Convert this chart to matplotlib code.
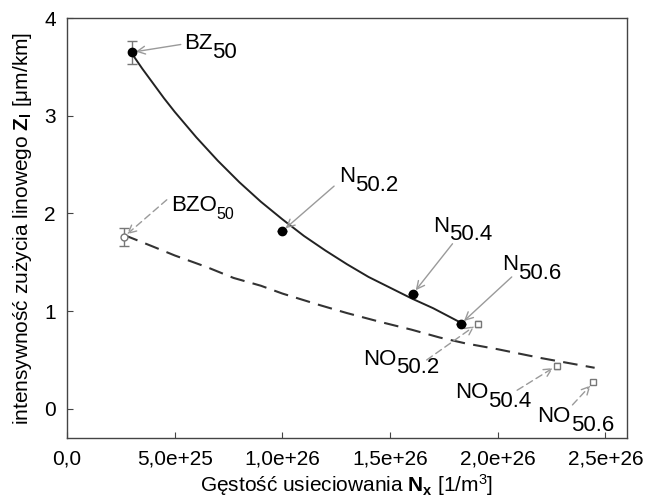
import matplotlib
matplotlib.use("Agg")
import matplotlib.pyplot as plt

plt.rcParams["font.family"] = ["Liberation Sans", "DejaVu Sans"]
plt.rcParams["mathtext.fontset"] = "custom"
plt.rcParams["mathtext.rm"] = "Liberation Sans"
plt.rcParams["mathtext.it"] = "Liberation Sans:italic"
plt.rcParams["mathtext.bf"] = "Liberation Sans:bold"

n_x = [3.0e25, 1.0e26, 1.607e26, 1.829e26]
n_y = [3.65, 1.82, 1.18, 0.87]
n_err = [0.12, 0.0, 0.0, 0.0]

no_x = [2.64e25, 1.907e26, 2.273e26, 2.444e26]
no_y = [1.76, 0.87, 0.44, 0.27]
no_err = [0.09, 0.03, 0.03, 0.02]

# trend lines
fit_n_x = [3.0e25, 3.5e25, 4.0e25, 4.5e25, 5.0e25, 5.5e25, 6.0e25, 6.5e25, 7.0e25,
           7.5e25, 8.0e25, 9.0e25, 1.0e26, 1.1e26, 1.2e26, 1.3e26, 1.4e26,
           1.5e26, 1.6e26, 1.7e26, 1.83e26]
fit_n_y = [3.64, 3.48, 3.33, 3.18, 3.04, 2.91, 2.78, 2.66, 2.54,
           2.43, 2.32, 2.12, 1.94, 1.77, 1.62, 1.48, 1.35,
           1.24, 1.13, 1.03, 0.88]

fit_no_x = [2.64e25, 4.0e25, 5.0e25, 6.5e25, 7.73e25, 9.0e25, 1.0e26, 1.176e26,
            1.3e26, 1.454e26, 1.6e26, 1.73e26, 1.85e26, 2.0e26, 2.1e26, 2.2e26,
            2.3e26, 2.45e26]
fit_no_y = [1.78, 1.66, 1.57, 1.45, 1.34, 1.26, 1.18, 1.06,
            0.98, 0.89, 0.81, 0.73, 0.67, 0.61, 0.565, 0.52,
            0.48, 0.42]

xticks = [0, 5e25, 1e26, 1.5e26, 2e26, 2.5e26]
xtick_labels = ["0,0", "5,0e+25", "1,0e+26", "1,5e+26", "2,0e+26", "2,5e+26"]
yticks = [0, 1, 2, 3, 4]

n_names = ["BZ", "N", "N", "N"]
n_subs = ["50", "50.2", "50.4", "50.6"]
no_names = ["BZO", "NO", "NO", "NO"]
no_subs = ["50", "50.2", "50.4", "50.6"]

# label layout: text baseline position, arrow tail position
n_text_pos = [(5.42e25, 3.68), (1.264e26, 2.32), (1.70e26, 1.81), (2.02e26, 1.42)]
n_tail_pos = [(5.28e25, 3.73), (1.24e26, 2.28), (1.79e26, 1.69), (2.065e26, 1.35)]
no_text_pos = [(4.81e25, 2.03), (1.375e26, 0.45), (1.80e26, 0.11), (2.185e26, -0.14)]
no_tail_pos = [(4.63e25, 2.14), (1.67e26, 0.50), (2.09e26, 0.19), (2.347e26, 0.04)]

fig = plt.figure(figsize=(6.45, 5.03), dpi=100)
ax = fig.add_axes([0.104, 0.129, 0.868, 0.835])

ax.plot(fit_n_x, fit_n_y, color="#222222", lw=1.4, zorder=2)
ax.plot(fit_no_x, fit_no_y, color="#333333", lw=1.5, dashes=(7, 4), zorder=2)

ax.errorbar(n_x, n_y, yerr=n_err, fmt="o", color="black", ms=6,
            ecolor="#777777", elinewidth=1, capsize=3.5, zorder=4)
ax.errorbar(no_x[:1], no_y[:1], yerr=no_err[:1], fmt="o", mfc="white",
            mec="#777777", color="#777777", ms=5, elinewidth=1, capsize=3.5, zorder=4)
ax.errorbar(no_x[1:], no_y[1:], yerr=no_err[1:], fmt="s", mfc="white",
            mec="#777777", color="#777777", ms=5, elinewidth=1, capsize=2, zorder=4)


def label(name, sub, pos, tail, pt, dashed, sub_size):
    ls = (0, (5, 3)) if dashed else "-"
    ax.annotate("", xy=pt, xytext=tail,
                arrowprops=dict(arrowstyle="->", color="#9a9a9a", lw=1,
                                linestyle=ls, shrinkA=0, shrinkB=3,
                                mutation_scale=14))
    t = ax.text(pos[0], pos[1], name, fontsize=16, va="baseline", ha="left")
    ax.annotate(sub, xy=(1, 0), xycoords=t, xytext=(0, -2.5),
                textcoords="offset points", fontsize=sub_size,
                va="baseline", ha="left")


for i in range(4):
    label(n_names[i], n_subs[i], n_text_pos[i], n_tail_pos[i],
          (n_x[i], n_y[i]), False, 16)
for i in range(4):
    label(no_names[i], no_subs[i], no_text_pos[i], no_tail_pos[i],
          (no_x[i], no_y[i]), True, 11.5 if i == 0 else 16)

ax.set_xlim(0, 2.6e26)
ax.set_ylim(-0.3, 4)
ax.set_xticks(xticks)
ax.set_xticklabels(xtick_labels)
ax.set_yticks(yticks)
ax.tick_params(direction="in", length=4, labelsize=15, top=False, right=False,
               color="#444444", pad=8)
for s in ax.spines.values():
    s.set_color("#444444")
    s.set_linewidth(1)

ax.set_xlabel(r"Gęstość usieciowania $\mathbf{N_x}$ [1/m$^3$]", fontsize=15, labelpad=3)
ax.set_ylabel(r"intensywność zużycia linowego $\mathbf{Z_l}$ [μm/km]", fontsize=15, labelpad=7)

fig.savefig("out.png", dpi=100)
